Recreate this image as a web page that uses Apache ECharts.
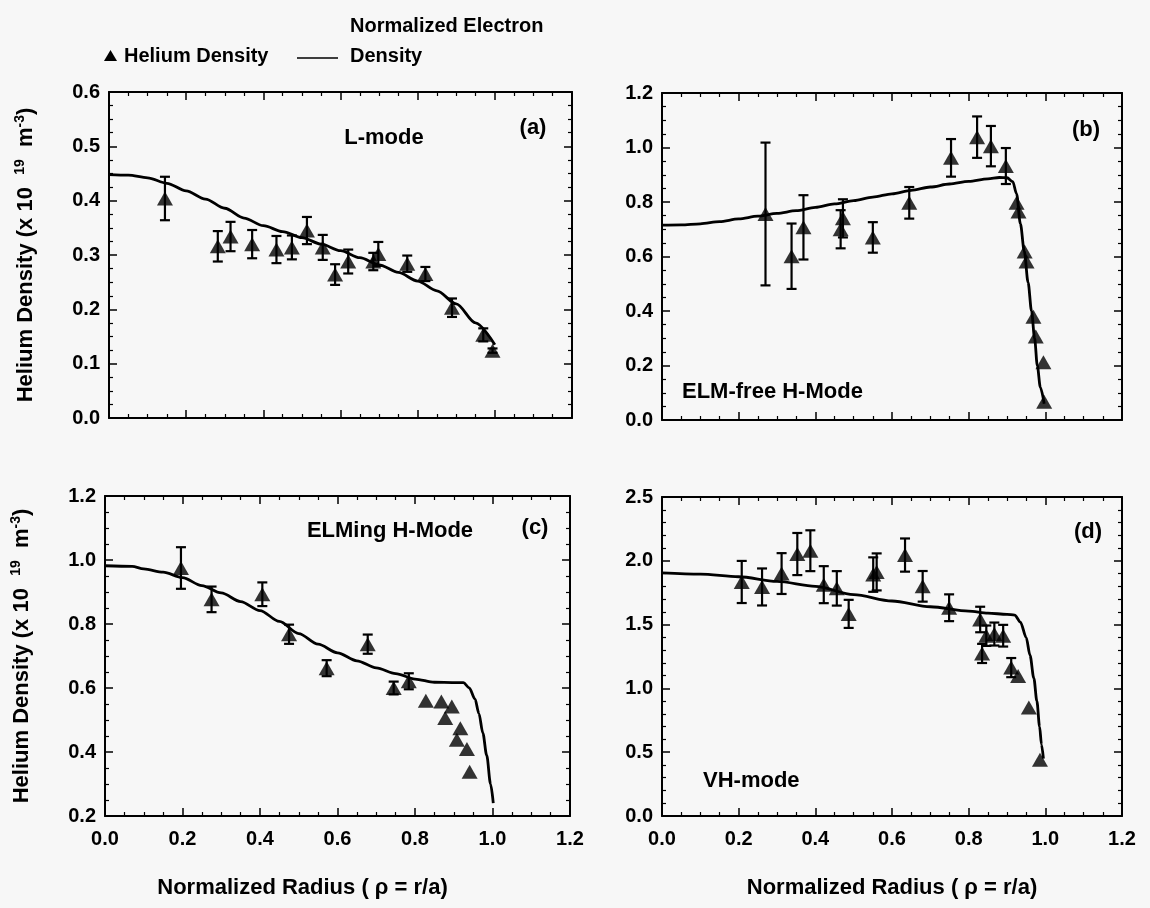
<!DOCTYPE html>
<html><head><meta charset="utf-8">
<script src="https://cdn.jsdelivr.net/npm/echarts@6/dist/echarts.min.js"></script>
<style>html,body{margin:0;padding:0;background:#f7f7f7}#c{width:1150px;height:908px}</style>
</head><body><div id="c"></div>
<script>
// ---------- DATA ----------
// Helium density points: [rho, density, error half-width]
const heliumA = [[0.145,0.404,0.040],[0.282,0.316,0.028],[0.315,0.334,0.027],[0.371,0.320,0.026],[0.434,0.310,0.025],
  [0.474,0.314,0.022],[0.513,0.345,0.025],[0.554,0.314,0.023],[0.586,0.264,0.019],[0.620,0.288,0.022],
  [0.685,0.288,0.016],[0.698,0.302,0.022],[0.773,0.284,0.015],[0.820,0.265,0.013],[0.889,0.203,0.017],
  [0.970,0.153,0.012],[0.994,0.124,0.004]];
const electronA = [[0,0.448],[0.05,0.447],[0.1,0.442],[0.15,0.432],[0.2,0.418],[0.25,0.403],[0.3,0.386],[0.35,0.368],
  [0.4,0.354],[0.45,0.343],[0.5,0.332],[0.55,0.320],[0.6,0.308],[0.65,0.295],[0.7,0.282],[0.75,0.268],[0.8,0.252],
  [0.85,0.234],[0.9,0.210],[0.95,0.175],[1.0,0.135]];

const heliumB = [[0.270,0.756,0.262],[0.338,0.601,0.120],[0.369,0.707,0.118],[0.472,0.740,0.070],[0.466,0.700,0.070],
  [0.550,0.670,0.056],[0.645,0.797,0.058],[0.754,0.962,0.069],[0.822,1.038,0.076],[0.858,1.005,0.074],
  [0.897,0.932,0.066],[0.925,0.797,0],[0.930,0.765,0],[0.946,0.618,0],[0.951,0.582,0],[0.969,0.379,0],
  [0.975,0.306,0],[0.995,0.212,0],[0.997,0.067,0]];
const electronB = [[0,0.715],[0.05,0.716],[0.1,0.720],[0.15,0.728],[0.2,0.738],[0.25,0.748],[0.3,0.758],[0.35,0.768],
  [0.4,0.780],[0.45,0.793],[0.5,0.805],[0.55,0.818],[0.6,0.830],[0.65,0.843],[0.7,0.855],[0.75,0.866],[0.8,0.876],
  [0.85,0.885],[0.88,0.890],[0.9,0.889],[0.915,0.875],[0.925,0.830],[0.935,0.720],[0.945,0.620],[0.955,0.505],
  [0.964,0.400],[0.972,0.300],[0.979,0.200],[0.987,0.120],[0.997,0.060]];

const heliumC = [[0.196,0.975,0.065],[0.275,0.877,0.040],[0.406,0.893,0.037],[0.475,0.768,0.030],[0.572,0.662,0.025],
  [0.678,0.737,0.030],[0.745,0.600,0.020],[0.784,0.621,0.025],[0.828,0.560,0],[0.868,0.558,0],[0.878,0.506,0],
  [0.895,0.542,0],[0.917,0.474,0],[0.908,0.438,0],[0.934,0.409,0],[0.941,0.338,0]];
const electronC = [[0,0.982],[0.07,0.980],[0.1,0.972],[0.15,0.962],[0.2,0.945],[0.25,0.920],[0.3,0.897],[0.35,0.870],
  [0.4,0.842],[0.45,0.808],[0.5,0.770],[0.55,0.737],[0.6,0.710],[0.65,0.685],[0.7,0.663],[0.75,0.645],[0.8,0.628],
  [0.85,0.618],[0.9,0.617],[0.925,0.617],[0.94,0.600],[0.955,0.565],[0.965,0.520],[0.975,0.460],[0.985,0.390],
  [0.995,0.300],[1.002,0.240]];

const heliumD = [[0.208,1.834,0.165],[0.261,1.795,0.145],[0.312,1.900,0.160],[0.353,2.053,0.165],[0.387,2.079,0.160],
  [0.422,1.813,0.145],[0.456,1.784,0.135],[0.487,1.584,0.110],[0.551,1.892,0.135],[0.560,1.913,0.145],
  [0.634,2.045,0.130],[0.680,1.800,0.120],[0.749,1.632,0.105],[0.830,1.540,0.100],[0.835,1.274,0.075],
  [0.846,1.413,0.080],[0.867,1.426,0.090],[0.890,1.413,0.085],[0.911,1.163,0.075],[0.929,1.097,0],
  [0.957,0.850,0],[0.986,0.440,0]];
const electronD = [[0,1.905],[0.1,1.895],[0.2,1.875],[0.3,1.838],[0.4,1.800],[0.5,1.735],[0.6,1.685],[0.7,1.640],
  [0.8,1.605],[0.85,1.590],[0.9,1.580],[0.92,1.575],[0.935,1.520],[0.95,1.400],[0.96,1.260],[0.97,1.080],
  [0.978,0.900],[0.985,0.700],[0.990,0.560],[0.995,0.450]];

const panelTags = ['(a)','(b)','(c)','(d)'];
const modeNames = ['L-mode','ELM-free H-Mode','ELMing H-Mode','VH-mode'];
const xTitle = 'Normalized Radius ( \u03c1 = r/a)';
const yTitleRich = '{m|Helium Density (x 10  }{s|19}{m|  m}{s|-3}{m|)}';
const legendHe = 'Helium Density';
const legendNe1 = 'Normalized Electron';
const legendNe2 = 'Density';

// ---------- LAYOUT ----------
const FONT = "'Liberation Sans', Arial, sans-serif";
const panels = [
  {grid:{left:109,top:92,width:463,height:326}, ymin:0, ymax:0.6, yint:0.1, ysplit:4, he:heliumA, ne:electronA, xl:false, yn:true, np:0},
  {grid:{left:662,top:93,width:460,height:327}, ymin:0, ymax:1.2, yint:0.2, ysplit:4, he:heliumB, ne:electronB, xl:false, yn:false, np:0},
  {grid:{left:105,top:496,width:465,height:320}, ymin:0.2, ymax:1.2, yint:0.2, ysplit:4, he:heliumC, ne:electronC, xl:true, yn:true, np:70},
  {grid:{left:662,top:497,width:460,height:319}, ymin:0, ymax:2.5, yint:0.5, ysplit:5, he:heliumD, ne:electronD, xl:true, yn:false, np:0}
];

const lbl = {fontFamily:FONT, fontWeight:'bold', fontSize:20, color:'#000'};
const grids=[], xAxes=[], yAxes=[], series=[];
panels.forEach((p,i)=>{
  grids.push(p.grid);
  const common = {
    axisLine:{show:true, onZero:false, lineStyle:{color:'#000', width:2}},
    axisTick:{show:true, inside:true, length:8, lineStyle:{color:'#000', width:1.5}},
    minorTick:{show:true, length:4, lineStyle:{color:'#000', width:1.2}},
    splitLine:{show:false}
  };
  xAxes.push(Object.assign({}, common, {type:'value', gridIndex:i, min:0, max:1.2, interval:0.2, position:'bottom',
    minorTick:Object.assign({}, common.minorTick, {splitNumber:4}),
    axisLabel:Object.assign({show:p.xl, margin:13, formatter:v=>v.toFixed(1)}, lbl),
    name: p.xl ? xTitle : '', nameLocation:'middle', nameGap:61,
    nameTextStyle:{fontFamily:FONT, fontWeight:'bold', fontSize:22, color:'#000', padding:[0,p.np,0,0]}}));
  xAxes.push(Object.assign({}, common, {type:'value', gridIndex:i, min:0, max:1.2, interval:0.2, position:'top',
    minorTick:Object.assign({}, common.minorTick, {splitNumber:4}), axisLabel:{show:false}}));
  yAxes.push(Object.assign({}, common, {type:'value', gridIndex:i, min:p.ymin, max:p.ymax, interval:p.yint, position:'left',
    minorTick:Object.assign({}, common.minorTick, {splitNumber:p.ysplit}),
    axisLabel:Object.assign({margin:9, formatter:v=>v.toFixed(1)}, lbl),
    name: p.yn ? yTitleRich : '', nameLocation:'middle', nameGap:70, nameRotate:90,
    nameTextStyle:{rich:{
      m:{fontFamily:FONT, fontWeight:'bold', fontSize:22, color:'#000', lineHeight:26},
      s:{fontFamily:FONT, fontWeight:'bold', fontSize:14, color:'#000', verticalAlign:'top', lineHeight:26}
    }}}));
  yAxes.push(Object.assign({}, common, {type:'value', gridIndex:i, min:p.ymin, max:p.ymax, interval:p.yint, position:'right',
    minorTick:Object.assign({}, common.minorTick, {splitNumber:p.ysplit}), axisLabel:{show:false}}));

  series.push({type:'line', name:'Normalized Electron Density', xAxisIndex:2*i, yAxisIndex:2*i, data:p.ne,
    showSymbol:false, smooth:0.3, smoothMonotone:'x', lineStyle:{color:'#000', width:2.8}, silent:true, z:2});
  series.push({type:'custom', xAxisIndex:2*i, yAxisIndex:2*i, data:p.he.filter(d=>d[2]>0), encode:{x:0,y:1},
    silent:true, z:3,
    renderItem:(params, api)=>{
      const x=api.value(0), y=api.value(1), e=api.value(2);
      const t=api.coord([x,y+e]), b=api.coord([x,y-e]), w=5;
      const st={stroke:'#000', lineWidth:2.2};
      return {type:'group', children:[
        {type:'line', shape:{x1:t[0],y1:t[1],x2:b[0],y2:b[1]}, style:st},
        {type:'line', shape:{x1:t[0]-w,y1:t[1],x2:t[0]+w,y2:t[1]}, style:st},
        {type:'line', shape:{x1:b[0]-w,y1:b[1],x2:b[0]+w,y2:b[1]}, style:st}
      ]};
    }});
  series.push({type:'scatter', name:'Helium Density', xAxisIndex:2*i, yAxisIndex:2*i, data:p.he.map(d=>[d[0],d[1]]),
    symbol:'triangle', symbolSize:[16,14], itemStyle:{color:'#000'}, silent:true, z:4});
});

const txt = (x,y,s,align,fs)=>({type:'text', x:x, y:y, style:{text:s, fontFamily:FONT, fontWeight:'bold', fontSize:fs||22,
  fill:'#000', align:align||'center', verticalAlign:'middle'}});

const graphic = [
  txt(384,138,modeNames[0]), txt(533,128,panelTags[0]),
  txt(682,392,modeNames[1],'left'), txt(1086,130,panelTags[1]),
  txt(390,531,modeNames[2]), txt(535,528,panelTags[2]),
  txt(703,781,modeNames[3],'left'), txt(1088,532,panelTags[3]),
  {type:'polygon', shape:{points:[[104,61],[117,61],[110.5,50]]}, style:{fill:'#000'}},
  txt(124,56,legendHe,'left',20),
  {type:'line', shape:{x1:297,y1:58,x2:338,y2:58}, style:{stroke:'#000', lineWidth:1.5}},
  txt(350,26,legendNe1,'left',20), txt(350,56,legendNe2,'left',20)
];

const chart = echarts.init(document.getElementById('c'), null, {renderer:'canvas'});
chart.setOption({backgroundColor:'#f7f7f7', animation:false, grid:grids, xAxis:xAxes, yAxis:yAxes, series:series, graphic:graphic});
</script></body></html>
